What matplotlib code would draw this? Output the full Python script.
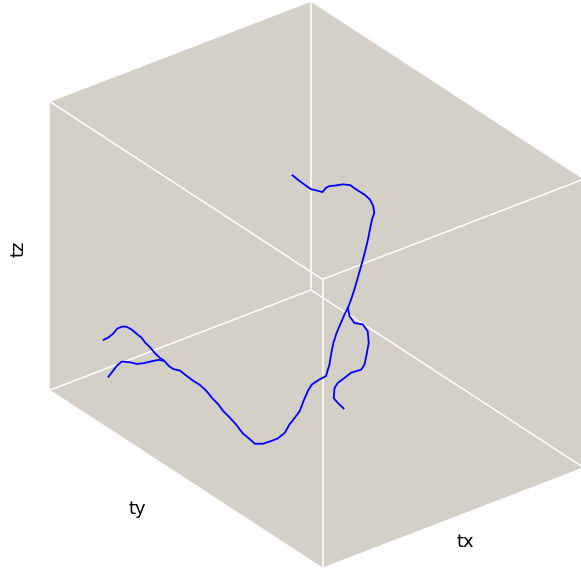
import matplotlib
matplotlib.use("Agg")
import matplotlib.pyplot as plt
from mpl_toolkits.mplot3d import proj3d
from mpl_toolkits.mplot3d.art3d import Poly3DCollection

# Trajectory samples (tx, ty, tz), normalised to the unit box
tx_main = [0.924, 0.915, 0.906, 0.899, 0.890, 0.882, 0.871, 0.862, 0.853, 0.847,
           0.837, 0.828, 0.819, 0.811, 0.809, 0.807, 0.804, 0.801, 0.798, 0.795,
           0.792, 0.789, 0.786, 0.784, 0.781, 0.778, 0.775, 0.772, 0.769, 0.754,
           0.738, 0.726, 0.713, 0.704, 0.698, 0.685, 0.678, 0.670, 0.663, 0.648,
           0.636, 0.630, 0.626, 0.622, 0.616, 0.608, 0.602, 0.595, 0.581, 0.566,
           0.551, 0.536, 0.522, 0.507, 0.494, 0.482, 0.469, 0.471, 0.477, 0.488,
           0.503, 0.514, 0.528, 0.540, 0.553, 0.559, 0.566, 0.578, 0.587, 0.596,
           0.609, 0.622]
ty_main = [0.126, 0.135, 0.144, 0.151, 0.160, 0.168, 0.179, 0.188, 0.197, 0.204,
           0.213, 0.222, 0.231, 0.239, 0.253, 0.269, 0.290, 0.312, 0.333, 0.354,
           0.376, 0.392, 0.413, 0.429, 0.451, 0.472, 0.493, 0.512, 0.531, 0.546,
           0.562, 0.574, 0.587, 0.596, 0.602, 0.615, 0.622, 0.630, 0.638, 0.652,
           0.664, 0.671, 0.674, 0.678, 0.684, 0.692, 0.699, 0.705, 0.703, 0.701,
           0.699, 0.697, 0.695, 0.693, 0.689, 0.685, 0.681, 0.679, 0.673, 0.663,
           0.647, 0.636, 0.622, 0.610, 0.597, 0.591, 0.584, 0.572, 0.563, 0.554,
           0.541, 0.528]
tz_main = [0.226, 0.237, 0.253, 0.271, 0.281, 0.283, 0.275, 0.263, 0.252, 0.238,
           0.223, 0.205, 0.192, 0.184, 0.175, 0.172, 0.179, 0.173, 0.168, 0.166,
           0.157, 0.143, 0.132, 0.118, 0.107, 0.094, 0.076, 0.070, 0.062, 0.066,
           0.080, 0.092, 0.115, 0.147, 0.162, 0.198, 0.234, 0.271, 0.296, 0.317,
           0.332, 0.374, 0.415, 0.451, 0.487, 0.524, 0.554, 0.579, 0.601, 0.630,
           0.664, 0.698, 0.732, 0.772, 0.805, 0.833, 0.849, 0.872, 0.893, 0.908,
           0.921, 0.933, 0.932, 0.925, 0.919, 0.912, 0.895, 0.898, 0.899, 0.908,
           0.922, 0.938]

tx_left = [0.915, 0.906, 0.899, 0.890, 0.875, 0.862, 0.850, 0.834, 0.822, 0.811]
ty_left = [0.135, 0.144, 0.151, 0.160, 0.176, 0.188, 0.200, 0.216, 0.228, 0.239]
tz_left = [0.101, 0.125, 0.144, 0.160, 0.162, 0.159, 0.165, 0.176, 0.184, 0.184]

tx_right = [0.595, 0.592, 0.583, 0.567, 0.558, 0.556, 0.560, 0.564, 0.570, 0.589,
            0.602, 0.614, 0.620, 0.622, 0.614, 0.603]
ty_right = [0.705, 0.708, 0.717, 0.733, 0.742, 0.744, 0.740, 0.736, 0.730, 0.711,
            0.699, 0.686, 0.680, 0.679, 0.686, 0.697]
tz_right = [0.579, 0.551, 0.530, 0.529, 0.508, 0.468, 0.427, 0.391, 0.372, 0.356,
            0.335, 0.314, 0.295, 0.260, 0.245, 0.229]

axis_labels = ["tx", "ty", "tz"]
limits = (0.0, 1.0)

W, H = 581, 579
PANE = "#D4D0C8"
LINE = "#0000FF"

fig = plt.figure(figsize=(W / 100, H / 100), dpi=100, facecolor="white")
ax = fig.add_axes([-0.1, -0.1, 1.2, 1.2], projection="3d", computed_zorder=False)
ax.set_proj_type("ortho")
ax.view_init(elev=30, azim=52.5)
ax.set_xlim(*limits)
ax.set_ylim(*limits)
ax.set_zlim(*limits)
box_aspect = (330, 449, 334)
zoom = 1.0
ax.set_box_aspect(box_aspect, zoom=zoom)
ax.set_axis_off()
ax.patch.set_facecolor("white")

lo, hi = limits
# three back walls meeting at the (lo, lo, lo) corner
faces = [
    [(lo, lo, lo), (lo, hi, lo), (lo, hi, hi), (lo, lo, hi)],
    [(lo, lo, lo), (hi, lo, lo), (hi, lo, hi), (lo, lo, hi)],
    [(lo, lo, lo), (hi, lo, lo), (hi, hi, lo), (lo, hi, lo)],
]
ax.add_collection3d(Poly3DCollection(faces, facecolors=PANE, edgecolors=PANE,
                                     linewidths=0.6, zorder=0))

# all twelve box edges in white
corners = [(x, y, z) for x in (lo, hi) for y in (lo, hi) for z in (lo, hi)]
for i, p in enumerate(corners):
    for q in corners[i + 1:]:
        if sum(pi != qi for pi, qi in zip(p, q)) == 1:
            ax.plot([p[0], q[0]], [p[1], q[1]], [p[2], q[2]],
                    color="white", lw=1.1, zorder=1, solid_capstyle="butt")

for xs, ys, zs in ((tx_main, ty_main, tz_main),
                   (tx_left, ty_left, tz_left),
                   (tx_right, ty_right, tz_right)):
    ax.plot(xs, ys, zs, color=LINE, lw=1.3, zorder=2)


def to_pixels(pt):
    x2, y2, _ = proj3d.proj_transform(pt[0], pt[1], pt[2], ax.get_proj())
    return ax.transData.transform((x2, y2))


# size the box: back corner at (311, 290) px from top-left, walls 289 px tall
corner_px = (311.0, H - 290.0)
wall_px = 289.0
for _ in range(2):
    fig.canvas.draw()
    p0 = to_pixels((lo, lo, lo))
    p1 = to_pixels((lo, lo, hi))
    zoom *= wall_px / (p1[1] - p0[1])
    ax.set_box_aspect(box_aspect, zoom=zoom)
for _ in range(2):
    fig.canvas.draw()
    p0 = to_pixels((lo, lo, lo))
    pos = ax.get_position(original=True)
    ax.set_position([pos.x0 + (corner_px[0] - p0[0]) / W,
                     pos.y0 + (corner_px[1] - p0[1]) / H,
                     pos.width, pos.height])

font = dict(family=["DejaVu Sans"], size=13, color="black")
fig.text(465 / W, 1 - 542 / H, axis_labels[0], ha="center", va="center", **font)
fig.text(137.5 / W, 1 - 509 / H, axis_labels[1], ha="center", va="center", **font)
fig.text(19 / W, 1 - 249 / H, axis_labels[2], ha="center", va="center",
         rotation=90, **font)

fig.savefig("out.png", dpi=100, facecolor="white")
